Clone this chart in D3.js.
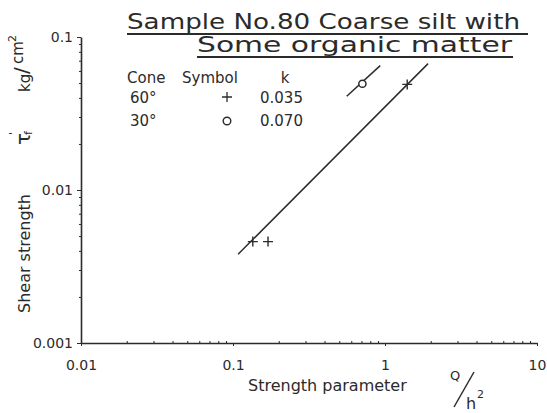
<!DOCTYPE html>
<html>
<head>
<meta charset="utf-8">
<script src="https://d3js.org/d3.v7.min.js"></script>
<style>
  body { margin:0; background:#fff; }
  svg { font-family: "DejaVu Sans", sans-serif; }
  .ax path, .ax line { stroke:#2b2b2b; }
  .ax text { fill:#2b2b2b; font-size:14px; font-family:"DejaVu Sans", sans-serif; }
</style>
</head>
<body>
<script>
// values
var plusX = [0.135, 0.17, 1.40];
var plusY = [0.0046, 0.0046, 0.049];
var circX = [0.71];
var circY = [0.0495];
// fitted lines (end points)
var line60X = [0.108, 1.92];
var line60Y = [0.0038, 0.067];
var line30X = [0.56, 0.93];
var line30Y = [0.041, 0.065];
var xTicks = [0.01, 0.1, 1, 10];
var xTickLabels = ["0.01", "0.1", "1", "10"];
var yTicks = [0.001, 0.01, 0.1];
var yTickLabels = ["0.001", "0.01", "0.1"];
var legendCone = ["60°", "30°"];
var legendK = ["0.035", "0.070"];

var W = 547, H = 413;
var mLeft = 81, mRight = 537, mTop = 37, mBottom = 343;

var svg = d3.select("body").append("svg").attr("width", W).attr("height", H);

var x = d3.scaleLog().domain([0.01, 10]).range([mLeft, mRight]);
var y = d3.scaleLog().domain([0.001, 0.1]).range([mBottom, mTop]);

function minors(lo, hi) {
  var m = [];
  for (var d = lo; d < hi; d *= 10)
    for (var j = 2; j <= 9; j++) m.push(d * j);
  return m;
}

// minor ticks
svg.append("g").attr("class", "ax")
  .attr("transform", "translate(" + mLeft + ",0)")
  .call(d3.axisLeft(y).tickValues(minors(0.001, 0.1)).tickSize(2).tickFormat(""))
  .select(".domain").remove();
svg.append("g").attr("class", "ax")
  .attr("transform", "translate(0," + mBottom + ")")
  .call(d3.axisTop(x).tickValues(minors(0.01, 10)).tickSize(2).tickFormat(""))
  .select(".domain").remove();

// major axes
var yAxis = svg.append("g").attr("class", "ax")
  .attr("transform", "translate(" + mLeft + ",0)")
  .call(d3.axisLeft(y).tickValues(yTicks).tickSize(4).tickSizeOuter(0).tickPadding(4)
        .tickFormat(function(d, i) { return yTickLabels[i]; }));
yAxis.select(".domain").attr("stroke-width", 1.6);

var xAxis = svg.append("g").attr("class", "ax")
  .attr("transform", "translate(0," + mBottom + ")")
  .call(d3.axisBottom(x).tickValues(xTicks).tickSize(3).tickSizeOuter(0).tickPadding(14)
        .tickFormat(function(d, i) { return xTickLabels[i]; }));
xAxis.select(".domain").attr("stroke-width", 1.6);

// lines
var lineGen = d3.line().x(function(d) { return x(d[0]); }).y(function(d) { return y(d[1]); });
[[line60X, line60Y], [line30X, line30Y]].forEach(function(l) {
  svg.append("path")
    .datum(d3.zip(l[0], l[1]))
    .attr("d", lineGen)
    .attr("fill", "none").attr("stroke", "#2b2b2b").attr("stroke-width", 1.5);
});

// points
var ps = 5;
svg.selectAll(".plus").data(d3.zip(plusX, plusY)).enter().append("path")
  .attr("class", "plus")
  .attr("d", function(d) {
    var cx = x(d[0]), cy = y(d[1]);
    return "M" + (cx - ps) + "," + cy + "H" + (cx + ps) + "M" + cx + "," + (cy - ps) + "V" + (cy + ps);
  })
  .attr("stroke", "#2b2b2b").attr("stroke-width", 1.4);
svg.selectAll(".circ").data(d3.zip(circX, circY)).enter().append("circle")
  .attr("cx", function(d) { return x(d[0]); })
  .attr("cy", function(d) { return y(d[1]); })
  .attr("r", 3.6)
  .attr("fill", "#fff").attr("stroke", "#2b2b2b").attr("stroke-width", 1.5);

// title
var tcol = "#2b2b2b";
svg.append("text").attr("x", 127).attr("y", 29)
  .attr("font-size", 21).attr("fill", tcol)
  .attr("textLength", 393).attr("lengthAdjust", "spacingAndGlyphs")
  .text("Sample No.80 Coarse silt with");
svg.append("line").attr("x1", 127).attr("x2", 528).attr("y1", 34).attr("y2", 34)
  .attr("stroke", tcol).attr("stroke-width", 2);
svg.append("text").attr("x", 512).attr("y", 52).attr("text-anchor", "end")
  .attr("font-size", 21).attr("fill", tcol)
  .attr("textLength", 315).attr("lengthAdjust", "spacingAndGlyphs")
  .text("Some organic matter");
svg.append("line").attr("x1", 197).attr("x2", 513).attr("y1", 57).attr("y2", 57)
  .attr("stroke", tcol).attr("stroke-width", 2);

// legend
var lg = svg.append("g").attr("font-size", 15).attr("fill", tcol);
lg.append("text").attr("x", 127).attr("y", 83).text("Cone");
lg.append("text").attr("x", 182).attr("y", 83).text("Symbol");
lg.append("text").attr("x", 285).attr("y", 83).attr("text-anchor", "middle").text("k");
legendCone.forEach(function(c, i) {
  var yy = 103 + i * 23;
  lg.append("text").attr("x", 130).attr("y", yy).text(c);
  lg.append("text").attr("x", 260).attr("y", yy).text(legendK[i]);
});
lg.append("path")
  .attr("d", "M222,97H232M227,92V102")
  .attr("stroke", tcol).attr("stroke-width", 1.3);
lg.append("circle").attr("cx", 227).attr("cy", 121).attr("r", 3.8)
  .attr("fill", "none").attr("stroke", tcol).attr("stroke-width", 1.4);

// y label
var yl = svg.append("g").attr("transform", "translate(30,0) rotate(-90)").attr("fill", tcol);
yl.append("text").attr("x", -313).attr("y", 0).attr("font-size", 16).text("Shear strength");
yl.append("text").attr("x", -145).attr("y", 0).attr("font-size", 20).text("τ");
yl.append("text").attr("x", -135).attr("y", 2).attr("font-size", 11).text("f");
yl.append("text").attr("x", -135).attr("y", -13).attr("font-size", 11).text("'");
yl.append("text").attr("x", -92).attr("y", 0).attr("font-size", 15).text("kg");
yl.append("text").attr("x", -74).attr("y", -2).attr("font-size", 20).text("/");
yl.append("text").attr("x", -64).attr("y", -7).attr("font-size", 15).text("cm");
yl.append("text").attr("x", -42).attr("y", -14).attr("font-size", 11).text("2");

// x label
var xl = svg.append("g").attr("fill", tcol);
xl.append("text").attr("x", 248).attr("y", 391).attr("font-size", 16).text("Strength parameter");
xl.append("text").attr("x", 450).attr("y", 380).attr("font-size", 13).text("Q");
xl.append("line").attr("x1", 454).attr("y1", 407).attr("x2", 474).attr("y2", 372)
  .attr("stroke", tcol).attr("stroke-width", 1.5);
xl.append("text").attr("x", 466).attr("y", 409).attr("font-size", 16).text("h");
xl.append("text").attr("x", 477).attr("y", 398).attr("font-size", 11).text("2");
</script>
</body>
</html>
